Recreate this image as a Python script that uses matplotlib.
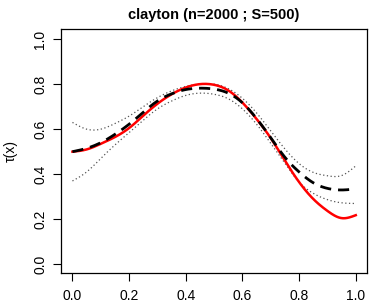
import numpy as np
import matplotlib
matplotlib.use("Agg")
import matplotlib.pyplot as plt

plt.rcParams['font.family'] = ['Liberation Sans', 'DejaVu Sans']

x = [0.00, 0.05, 0.10, 0.15, 0.20, 0.25, 0.30, 0.35, 0.40, 0.45, 0.50,
     0.55, 0.60, 0.65, 0.70, 0.75, 0.80, 0.85, 0.90, 0.95, 1.00]
true_tau = [0.50, 0.51, 0.535, 0.565, 0.605, 0.66, 0.713, 0.755, 0.785, 0.80, 0.797,
            0.772, 0.718, 0.645, 0.56, 0.46, 0.365, 0.29, 0.237, 0.205, 0.218]
mean_est = [0.50, 0.515, 0.54, 0.577, 0.622, 0.675, 0.725, 0.757, 0.776, 0.782, 0.778,
            0.76, 0.717, 0.647, 0.562, 0.475, 0.41, 0.362, 0.337, 0.33, 0.335]
upper = [0.63, 0.60, 0.60, 0.625, 0.658, 0.70, 0.74, 0.77, 0.79, 0.80, 0.80,
         0.78, 0.737, 0.672, 0.592, 0.512, 0.447, 0.408, 0.393, 0.394, 0.437]
lower = [0.37, 0.41, 0.47, 0.53, 0.585, 0.64, 0.69, 0.725, 0.75, 0.76, 0.755,
         0.735, 0.69, 0.622, 0.537, 0.448, 0.365, 0.315, 0.287, 0.273, 0.27]
xticks = [0.0, 0.2, 0.4, 0.6, 0.8, 1.0]
yticks = [0.0, 0.2, 0.4, 0.6, 0.8, 1.0]


def spline(xs, ys, n=400):
    xs = np.asarray(xs, float)
    ys = np.asarray(ys, float)
    m = len(xs)
    h = np.diff(xs)
    A = np.zeros((m, m))
    b = np.zeros(m)
    A[0, 0] = A[-1, -1] = 1
    for i in range(1, m - 1):
        A[i, i - 1] = h[i - 1]
        A[i, i] = 2 * (h[i - 1] + h[i])
        A[i, i + 1] = h[i]
        b[i] = 3 * ((ys[i + 1] - ys[i]) / h[i] - (ys[i] - ys[i - 1]) / h[i - 1])
    c = np.linalg.solve(A, b)
    xf = np.linspace(xs[0], xs[-1], n)
    idx = np.clip(np.searchsorted(xs, xf) - 1, 0, m - 2)
    dx = xf - xs[idx]
    hi = h[idx]
    bb = (ys[idx + 1] - ys[idx]) / hi - hi * (2 * c[idx] + c[idx + 1]) / 3
    dd = (c[idx + 1] - c[idx]) / (3 * hi)
    yf = ys[idx] + bb * dx + c[idx] * dx ** 2 + dd * dx ** 3
    return xf, yf


fig = plt.figure(figsize=(3.82, 3.04), dpi=100)
ax = fig.add_axes([0.160, 0.101, 0.801, 0.803])

ax.plot(*spline(x, upper), color='#555555', lw=0.9, linestyle=(0, (1, 2)))
ax.plot(*spline(x, lower), color='#555555', lw=0.9, linestyle=(0, (1, 2)))
ax.plot(*spline(x, true_tau), color='#ff0000', lw=1.8)
ax.plot(*spline(x, mean_est), color='black', lw=2.0, linestyle=(0, (4, 2.5)))

ax.set_xlim(-0.04, 1.04)
ax.set_ylim(-0.04, 1.044)
ax.set_xticks(xticks)
ax.set_xticklabels([f"{v:.1f}" for v in xticks])
ax.set_yticks(yticks)
ax.set_yticklabels([f"{v:.1f}" for v in yticks], rotation=90, va='center')
ax.tick_params(direction='out', length=6, width=0.8, labelsize=10, pad=5)
ax.tick_params(axis='y', pad=4)
for s in ax.spines.values():
    s.set_linewidth(0.9)
ax.set_ylabel('τ(x)', fontsize=10, labelpad=11)
ax.set_title('clayton (n=2000 ; S=500)', fontsize=10.5, fontweight='bold', pad=7)

fig.savefig('out.png', dpi=100)
